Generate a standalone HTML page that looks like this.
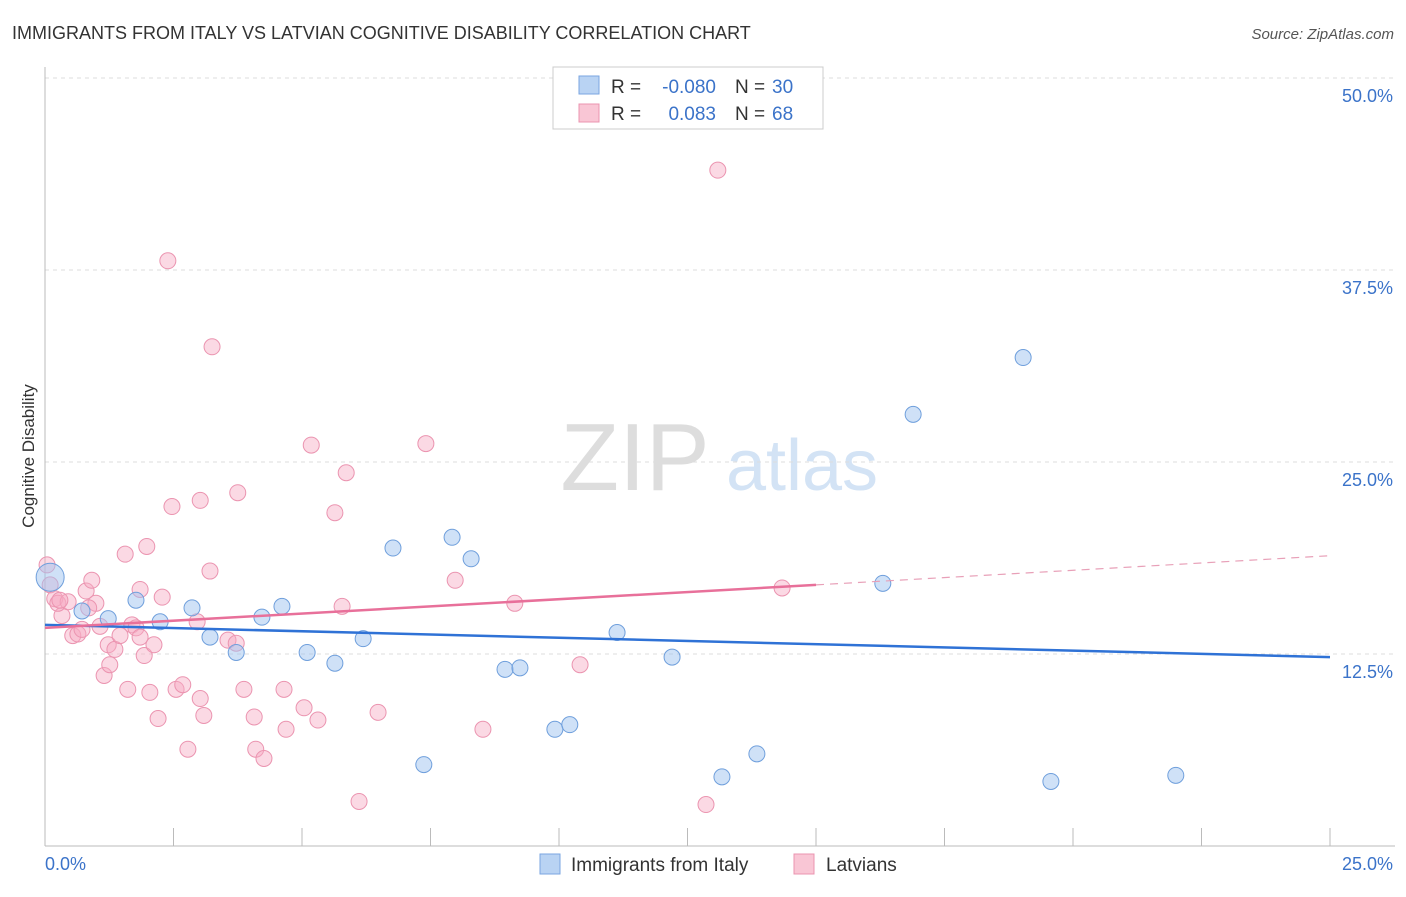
<!DOCTYPE html>
<html><head><meta charset="utf-8"><style>
body{margin:0;background:#fff;font-family:"Liberation Sans",sans-serif;}
svg text{font-family:"Liberation Sans",sans-serif;}
</style></head><body>
<svg id="chart" width="1406" height="892" xmlns="http://www.w3.org/2000/svg">
<text x="12" y="39" font-size="18" fill="#333">IMMIGRANTS FROM ITALY VS LATVIAN COGNITIVE DISABILITY CORRELATION CHART</text>
<text x="1394" y="39" font-size="15" fill="#555" text-anchor="end" font-style="italic">Source: ZipAtlas.com</text>
<text transform="translate(34,456) rotate(-90)" font-size="17" fill="#333" text-anchor="middle">Cognitive Disability</text>
<g>
<text x="635" y="490" font-size="96" fill="#ddd" text-anchor="middle" font-family="Liberation Serif">ZIP</text>
<text x="802" y="490" font-size="72" fill="#d3e3f5" text-anchor="middle">atlas</text>
</g>
<g id="grid"></g><g id="axes"></g><g id="marks"></g>
<g>
<rect x="553" y="67" width="270" height="62" fill="#fff" stroke="#ccc"/>
<rect x="579" y="76" width="20" height="18" fill="#b9d3f3" stroke="#7aa6e0"/>
<rect x="579" y="104" width="20" height="18" fill="#f9c6d5" stroke="#eb94b0"/>
<text x="611" y="93" font-size="19" fill="#333">R =</text>
<text x="716" y="93" font-size="19" fill="#3b73c9" text-anchor="end">-0.080</text>
<text x="735" y="93" font-size="19" fill="#333">N =</text>
<text x="772" y="93" font-size="19" fill="#3b73c9">30</text>
<text x="611" y="120" font-size="19" fill="#333">R =</text>
<text x="716" y="120" font-size="19" fill="#3b73c9" text-anchor="end">0.083</text>
<text x="735" y="120" font-size="19" fill="#333">N =</text>
<text x="772" y="120" font-size="19" fill="#3b73c9">68</text>
</g>
<g>
<rect x="540" y="854" width="20" height="20" fill="#b9d3f3" stroke="#7aa6e0"/>
<text x="571" y="871" font-size="19" fill="#333">Immigrants from Italy</text>
<rect x="794" y="854" width="20" height="20" fill="#f9c6d5" stroke="#eb94b0"/>
<text x="826" y="871" font-size="19" fill="#333">Latvians</text>
</g>
</svg>
<script>
const yTicks=[12.5,25,37.5,50];
const yTickLabels=["12.5%","25.0%","37.5%","50.0%"];
const xTickLabels=["0.0%","25.0%"];
const italyX=[0.10,0.72,1.23,1.77,2.24,2.86,3.21,3.72,4.22,4.61,5.10,5.64,6.19,6.77,7.37,7.92,8.29,8.95,9.24,9.92,10.21,11.13,12.20,13.17,13.85,16.30,16.89,19.03,19.57,22.00];
const italyY=[17.5,15.3,14.8,16.0,14.6,15.5,13.6,12.6,14.9,15.6,12.6,11.9,13.5,19.4,5.3,20.1,18.7,11.5,11.6,7.6,7.9,13.9,12.3,4.5,6.0,17.1,28.1,31.8,4.2,4.6];
const latX=[0.04,0.10,0.19,0.33,0.25,0.45,0.54,0.64,0.72,0.80,0.91,0.99,1.07,1.15,1.23,1.26,1.36,1.46,1.56,1.61,1.69,1.77,1.85,1.93,1.98,2.04,2.12,2.20,2.28,2.39,2.47,2.55,2.68,2.78,2.96,3.02,3.02,3.09,3.21,3.25,3.56,3.72,3.75,3.87,4.07,4.10,4.26,4.65,4.69,5.04,5.18,5.31,5.64,5.78,5.86,6.11,6.48,7.41,7.98,8.52,9.14,10.41,12.86,13.09,14.34,0.29,1.85,0.85];
const latY=[18.3,17.0,16.1,15.0,15.8,15.9,13.7,13.8,14.1,16.6,17.3,15.8,14.3,11.1,13.1,11.8,12.8,13.7,19.0,10.2,14.4,14.2,16.7,12.4,19.5,10.0,13.1,8.3,16.2,38.1,22.1,10.2,10.5,6.3,14.6,22.5,9.6,8.5,17.9,32.5,13.4,13.2,23.0,10.2,8.4,6.3,5.7,10.2,7.6,9.0,26.1,8.2,21.7,15.6,24.3,2.9,8.7,26.2,17.3,7.6,15.8,11.8,2.7,44.0,16.8,16.0,13.6,15.5];
const italyTrend=[14.4,12.3];
const latTrend=[14.2,17.0,18.9];
const latTrendX=[0,15,25];
const X=v=>45+v/25*1285;
const Y=v=>846-v/12.5*192;
const NS="http://www.w3.org/2000/svg";
function mk(parent,tag,attrs){const e=document.createElementNS(NS,tag);for(const k in attrs)e.setAttribute(k,attrs[k]);document.getElementById(parent).appendChild(e);return e;}
yTicks.forEach((t,i)=>{
 const l=mk('grid','line',{x1:45,x2:1395,y1:Y(t),y2:Y(t),stroke:'#ddd','stroke-dasharray':'4,4'});
 
 
 const tx=mk('axes','text',{x:1393,y:Y(t)+24,'font-size':18,fill:'#3b73c9','text-anchor':'end'});
 tx.textContent=yTickLabels[i];
 
 
});
const ax=mk('axes','line',{x1:45,x2:45,y1:67,y2:846,stroke:'#bbb'});


const bx=mk('axes','line',{x1:45,x2:1395,y1:846,y2:846,stroke:'#bbb'});


for(let i=0;i<=10;i++){const t=mk('axes','line',{x1:X(i*2.5),x2:X(i*2.5),y1:828,y2:846,stroke:'#bbb'});
 
 }
[[0,'start',45],[25,'end',1393]].forEach((d,i)=>{const t=mk('axes','text',{x:d[2],y:870,'font-size':18,fill:'#3b73c9','text-anchor':d[1]});t.textContent=xTickLabels[i];
 
 });
latX.forEach((x,i)=>{const c=mk('marks','circle',{cx:X(x),cy:Y(latY[i]),r:8,fill:'rgba(246,170,195,0.45)',stroke:'#eb94b0','stroke-width':1});
 
 });
italyX.forEach((x,i)=>{const c=mk('marks','circle',{cx:X(x),cy:Y(italyY[i]),r:i==0?14:8,fill:'rgba(160,195,240,0.5)',stroke:'#6f9fdc','stroke-width':1});
 
 });
const bl=mk('marks','line',{x1:X(0),x2:X(25),y1:Y(italyTrend[0]),y2:Y(italyTrend[1]),stroke:'#2f72d6','stroke-width':2.5});


const pl=mk('marks','line',{x1:X(latTrendX[0]),x2:X(latTrendX[1]),y1:Y(latTrend[0]),y2:Y(latTrend[1]),stroke:'#e8709a','stroke-width':2.5});


const pd=mk('marks','line',{x1:X(latTrendX[1]),x2:X(latTrendX[2]),y1:Y(latTrend[1]),y2:Y(latTrend[2]),stroke:'#e8a0b8','stroke-width':1.2,'stroke-dasharray':'8,6'});


</script>
</body></html>
